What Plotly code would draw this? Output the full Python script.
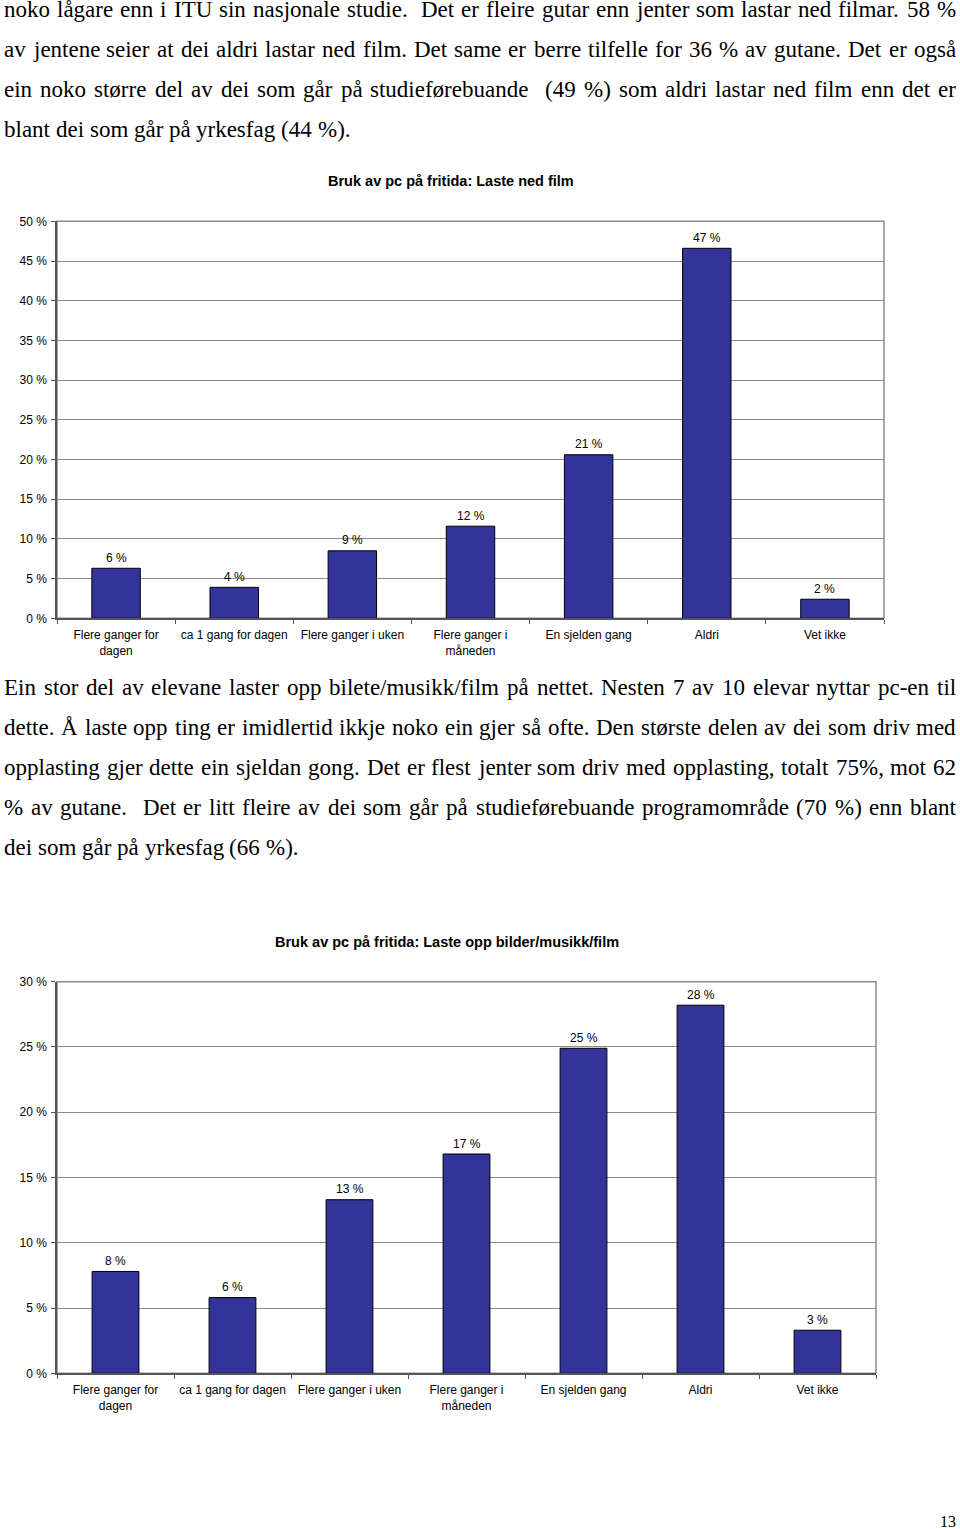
import plotly.graph_objects as go

W, H = 960, 1529

# ---------------- data ----------------
categories = ["Flere ganger for<br>dagen", "ca 1 gang for dagen", "Flere ganger i uken",
              "Flere ganger i<br>måneden", "En sjelden gang", "Aldri", "Vet ikke"]
film_values = [6.3, 3.9, 8.5, 11.6, 20.6, 46.6, 2.4]
film_labels = ["6 %", "4 %", "9 %", "12 %", "21 %", "47 %", "2 %"]
upload_values = [7.8, 5.8, 13.3, 16.8, 24.9, 28.2, 3.3]
upload_labels = ["8 %", "6 %", "13 %", "17 %", "25 %", "28 %", "3 %"]

title_film = "Bruk av pc på fritida: Laste ned film"
title_upload = "Bruk av pc på fritida: Laste opp bilder/musikk/film"

para1 = [
    "noko lågare enn i ITU sin nasjonale studie.  Det er fleire gutar enn jenter som lastar ned filmar. 58 %",
    "av jentene seier at dei aldri lastar ned film. Det same er berre tilfelle for 36 % av gutane. Det er også",
    "ein noko større del av dei som går på studieførebuande  (49 %) som aldri lastar ned film enn det er",
    "blant dei som går på yrkesfag (44 %).",
]
para2 = [
    "Ein stor del av elevane laster opp bilete/musikk/film på nettet. Nesten 7 av 10 elevar nyttar pc-en til",
    "dette. Å laste opp ting er imidlertid ikkje noko ein gjer så ofte. Den største delen av dei som driv med",
    "opplasting gjer dette ein sjeldan gong. Det er flest jenter som driv med opplasting, totalt 75%, mot 62",
    "% av gutane.  Det er litt fleire av dei som går på studieførebuande programområde (70 %) enn blant",
    "dei som går på yrkesfag (66 %).",
]

# ---------------- helpers ----------------
def px(x):
    return x / W

def py(y):
    return 1 - y / H

SANS = "Liberation Sans, Arial, sans-serif"
SERIF = "Liberation Serif, Times New Roman, serif"
BAR = "#333399"
GRID = "#8c8c8c"
AXIS = "#555555"
TICK_FS = 12

# Times metrics (units per 1000 em) for justified text layout
TIMES = {' ': 250, '%': 833, '(': 333, ')': 333, ',': 250, '-': 333, '.': 250, '/': 278, ':': 278,
         'A': 722, 'B': 667, 'C': 667, 'D': 722, 'E': 611, 'F': 556, 'G': 722, 'H': 722, 'I': 333,
         'J': 389, 'K': 722, 'L': 611, 'M': 889, 'N': 722, 'O': 722, 'P': 556, 'Q': 722, 'R': 667,
         'S': 556, 'T': 611, 'U': 722, 'V': 722, 'W': 944, 'X': 722, 'Y': 722, 'Z': 611,
         'a': 444, 'b': 500, 'c': 444, 'd': 500, 'e': 444, 'f': 333, 'g': 500, 'h': 500, 'i': 278,
         'j': 278, 'k': 500, 'l': 278, 'm': 778, 'n': 500, 'o': 500, 'p': 500, 'q': 500, 'r': 333,
         's': 389, 't': 278, 'u': 500, 'v': 500, 'w': 722, 'x': 500, 'y': 500, 'z': 444,
         'å': 444, 'ø': 500, 'æ': 667, 'Å': 722, 'Ø': 722, 'Æ': 889}
for d in "0123456789":
    TIMES[d] = 500

fig = go.Figure()

# ---------------- bars ----------------
fig.add_trace(go.Bar(
    x=categories, y=film_values,
    marker=dict(color=BAR, line=dict(color="black", width=1)), width=0.41,
    xaxis="x", yaxis="y", hoverinfo="skip", showlegend=False))

fig.add_trace(go.Bar(
    x=categories, y=upload_values,
    marker=dict(color=BAR, line=dict(color="black", width=1)), width=0.40,
    xaxis="x2", yaxis="y2", hoverinfo="skip", showlegend=False))

# value labels above bars (placed through the axes)
for xr, yr, vals, labs in (("x", "y", film_values, film_labels),
                           ("x2", "y2", upload_values, upload_labels)):
    for c, v, t in zip(categories, vals, labs):
        fig.add_annotation(x=c, y=v, xref=xr, yref=yr, text=t, showarrow=False,
                           xanchor="center", yanchor="middle", yshift=10.5,
                           font=dict(family=SANS, size=TICK_FS, color="black"))

xcommon = dict(type="category", showgrid=False, zeroline=False, showline=True, linecolor=AXIS,
               linewidth=1.5, ticks="outside", tickson="boundaries", ticklen=4, tickcolor=AXIS,
               tickfont=dict(family=SANS, size=TICK_FS, color="black"), ticklabelstandoff=5,
               fixedrange=True, automargin=False)
ycommon = dict(showgrid=True, gridcolor=GRID, gridwidth=1, zeroline=False, showline=True,
               linecolor=AXIS, linewidth=1.5, ticks="outside", ticklen=4, tickcolor=AXIS,
               dtick=5, ticksuffix=" %", tickfont=dict(family=SANS, size=TICK_FS, color="black"),
               ticklabelstandoff=2, fixedrange=True, automargin=False)

fig.update_layout(
    template="none",
    width=W, height=H, margin=dict(l=0, r=0, t=0, b=0, pad=0),
    paper_bgcolor="white", plot_bgcolor="white",
    font=dict(family=SANS, color="black"),
    xaxis=dict(domain=[px(57), px(884)], anchor="y", **xcommon),
    yaxis=dict(domain=[py(618.3), py(221.3)], range=[0, 50], anchor="x", **ycommon),
    xaxis2=dict(domain=[px(57), px(876)], anchor="y2", **xcommon),
    yaxis2=dict(domain=[py(1373.3), py(981.7)], range=[0, 30], anchor="x2", **ycommon),
)

# plot-area borders (gray top/right)
for xr, yr in (("x domain", "y domain"), ("x2 domain", "y2 domain")):
    fig.add_shape(type="rect", xref=xr, yref=yr, x0=0, x1=1, y0=0, y1=1,
                  line=dict(color=GRID, width=1.5), layer="below")

# chart titles
fig.add_annotation(x=px(451), y=py(181), xref="paper", yref="paper", text="<b>%s</b>" % title_film,
                   showarrow=False, font=dict(family=SANS, size=14.5, color="black"),
                   xanchor="center", yanchor="middle")
fig.add_annotation(x=px(447), y=py(942), xref="paper", yref="paper", text="<b>%s</b>" % title_upload,
                   showarrow=False, font=dict(family=SANS, size=14.5, color="black"),
                   xanchor="center", yanchor="middle")

# ---------------- body text (justified) ----------------
FS = 23

def add_line(text, baseline, justify, left=4, right=956):
    words = text.split(" ")
    widths = [sum(TIMES.get(c, 500) for c in w) * FS / 1000 for w in words]
    n = len(words)
    if justify and n > 1:
        gap = (right - left - sum(widths)) / (n - 1)
    else:
        gap = TIMES[" "] * FS / 1000
    x = left
    for w, wd in zip(words, widths):
        if w:
            fig.add_annotation(x=px(x), y=py(baseline - 0.3 * FS), xref="paper", yref="paper",
                               text=w, showarrow=False, xanchor="left", yanchor="middle",
                               borderpad=0, borderwidth=0,
                               font=dict(family=SERIF, size=FS, color="black"))
        x += wd + gap

def add_para(lines, first_baseline, step=40):
    for i, line in enumerate(lines):
        add_line(line, first_baseline + i * step, justify=(i < len(lines) - 1))

add_para(para1, 16)
add_para(para2, 694)

# page number
fig.add_annotation(x=px(948), y=py(1521), xref="paper", yref="paper", text="13", showarrow=False,
                   xanchor="center", yanchor="middle", font=dict(family=SERIF, size=16, color="black"))

fig.write_html("out.html")
